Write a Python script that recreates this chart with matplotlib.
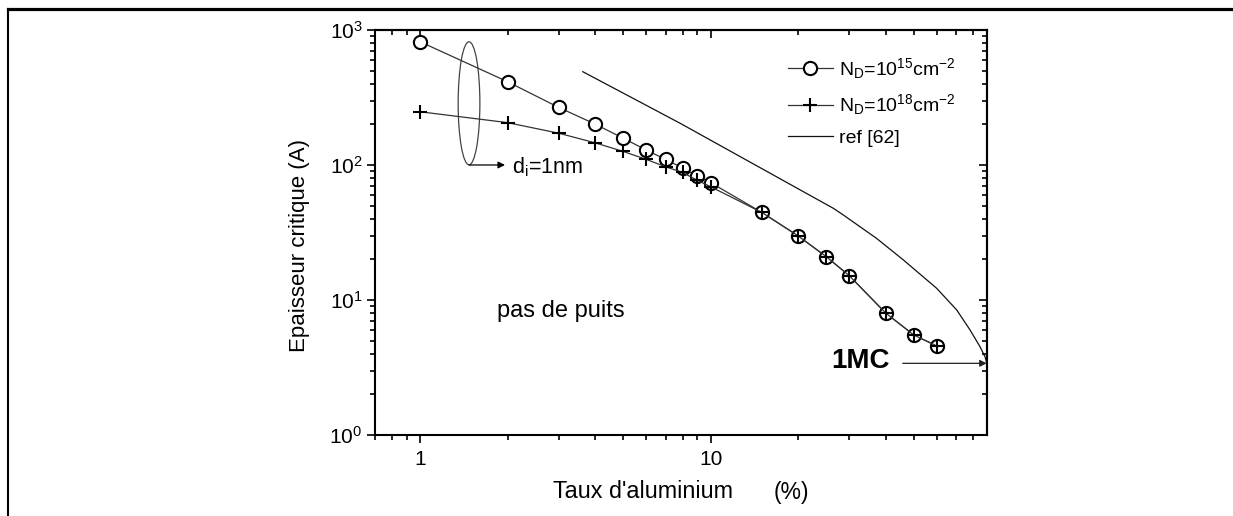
import matplotlib
matplotlib.use("Agg")
import matplotlib.pyplot as plt
from matplotlib.lines import Line2D
from matplotlib.patches import Ellipse
from matplotlib.ticker import LogLocator, FixedLocator, FixedFormatter, NullFormatter

plt.rcParams['font.family'] = ['Liberation Sans', 'DejaVu Sans']
plt.rcParams['mathtext.fontset'] = 'custom'
plt.rcParams['mathtext.rm'] = 'Liberation Sans'
plt.rcParams['mathtext.it'] = 'Liberation Sans:italic'
plt.rcParams['mathtext.bf'] = 'Liberation Sans:bold'

# Aluminium fraction (%) and critical thickness (A)
x_al = [1, 2, 3, 4, 5, 6, 7, 8, 9, 10, 15, 20, 25, 30, 40, 50, 60]
nd15 = [819, 414, 267, 201, 158, 129, 110, 95, 83, 74, 44.5, 29.8, 20.9, 15.1, 8.0, 5.5, 4.56]
nd18 = [248, 206, 172, 146, 126, 110, 97, 88, 77, 69, 44.5, 29.8, 20.9, 15.1, 8.0, 5.5, 4.56]

# Reference curve [62]
ref_x = [3.63, 7.84, 26.4, 28.6, 37.2, 46.0, 59.9, 70.2, 78.0, 84.4, 87.8, 89.0]
ref_y = [491, 204, 47.8, 42.6, 28.6, 19.8, 12.2, 8.43, 6.0, 4.51, 3.8, 3.41]

label15 = r'N$_\mathregular{D}$=10$^\mathregular{15}$cm$^\mathregular{-2}$'
label18 = r'N$_\mathregular{D}$=10$^\mathregular{18}$cm$^\mathregular{-2}$'
label_ref = 'ref [62]'

x_major = [1, 10]
x_major_labels = ['1', '10']

fig = plt.figure(figsize=(12.33, 5.16), dpi=100)
ax = fig.add_axes([375 / 1233, 1 - 435 / 516, 611.7 / 1233, 405 / 516])

h_ref, = ax.plot(ref_x, ref_y, color='#111111', lw=0.9, label=label_ref, zorder=2)
h15, = ax.plot(x_al, nd15, color='#333333', lw=0.9, marker='o', ms=9.5, mfc='white',
               mec='black', mew=1.5, label=label15, zorder=3)
h18, = ax.plot(x_al, nd18, color='#333333', lw=0.9, marker='+', ms=10, mec='black',
               mew=1.5, label=label18, zorder=4)

ax.set_xscale('log')
ax.set_yscale('log')
ax.set_xlim(0.7, 89)
ax.set_ylim(1, 1000)

ax.xaxis.set_major_locator(FixedLocator(x_major))
ax.xaxis.set_major_formatter(FixedFormatter(x_major_labels))
ax.xaxis.set_minor_locator(LogLocator(base=10, subs=range(2, 10)))
ax.xaxis.set_minor_formatter(NullFormatter())
ax.yaxis.set_major_locator(LogLocator(base=10, numticks=10))
ax.yaxis.set_minor_locator(LogLocator(base=10, subs=range(2, 10), numticks=10))
ax.yaxis.set_minor_formatter(NullFormatter())

for s in ax.spines.values():
    s.set_linewidth(1.5)
ax.tick_params(which='major', direction='out', length=6, width=1.2,
               labelsize=15, pad=3)
ax.tick_params(which='minor', direction='out', length=3.5, width=1.2)
ax.tick_params(axis='x', which='major', pad=5)

# Inward ticks along the top and right edges
secx = ax.secondary_xaxis('top')
secx.xaxis.set_major_locator(FixedLocator(x_major))
secx.xaxis.set_minor_locator(LogLocator(base=10, subs=range(2, 10)))
secx.tick_params(which='major', direction='in', length=6, width=1.2, labeltop=False)
secx.tick_params(which='minor', direction='in', length=3.5, width=1.2)
secx.spines['top'].set_linewidth(1.5)
secy = ax.secondary_yaxis('right')
secy.yaxis.set_major_locator(LogLocator(base=10, numticks=10))
secy.yaxis.set_minor_locator(LogLocator(base=10, subs=range(2, 10), numticks=10))
secy.tick_params(which='major', direction='in', length=6, width=1.2, labelright=False)
secy.tick_params(which='minor', direction='in', length=3.5, width=1.2)
secy.spines['right'].set_linewidth(1.5)

ax.set_ylabel('Epaisseur critique (A)', fontsize=16)
ax.yaxis.set_label_coords(-0.106, 0.4667)
fig.text(553 / 1233, 1 - 492 / 516, "Taux d'aluminium", fontsize=16.8,
         ha='left', va='center')
fig.text(774 / 1233, 1 - 492 / 516, "(%)", fontsize=16.5, ha='left', va='center')

leg = ax.legend(handles=[h15, h18, h_ref], loc='upper left',
                bbox_to_anchor=((788 - 375) / 611.7, (435 - 56) / 405),
                frameon=False, fontsize=14, handlelength=2.3, handletextpad=0.3,
                labelspacing=0.6, borderpad=0, borderaxespad=0)

# Ellipse grouping the d_i = 1 nm points
ax.add_patch(Ellipse((0.1537, 0.819), 0.0355, 0.3037, transform=ax.transAxes,
                     fill=False, edgecolor='#444444', lw=0.9))
ax.annotate('', xy=(0.2125, 0.6667), xytext=(0.1537, 0.6667),
            xycoords='axes fraction',
            arrowprops=dict(arrowstyle='-|>', color='black', lw=0.9,
                            mutation_scale=10, shrinkA=0, shrinkB=0))
ax.text(0.2235, 0.6605, r'd$_\mathregular{i}$=1nm', transform=ax.transAxes,
        fontsize=15.5, ha='left', va='center')

ax.text(0.1994, 0.306, 'pas de puits', transform=ax.transAxes, fontsize=17,
        ha='left', va='center')

ax.text(0.7455, 0.1827, '1MC', transform=ax.transAxes, fontsize=20,
        fontweight='bold', ha='left', va='center')
ax.annotate('', xy=(1.0, 0.177), xytext=(0.8627, 0.177), xycoords='axes fraction',
            arrowprops=dict(arrowstyle='-|>', color='#222222', lw=0.9,
                            mutation_scale=10, shrinkA=0, shrinkB=0))

# Page frame lines
fig.add_artist(Line2D([7.7 / 1233, 1.0], [1 - 8.7 / 516, 1 - 8.7 / 516],
                      transform=fig.transFigure, color='black', lw=2.3))
fig.add_artist(Line2D([7.7 / 1233, 7.7 / 1233], [0, 1 - 8.7 / 516],
                      transform=fig.transFigure, color='black', lw=1.5))

fig.savefig('out.png', dpi=100)
